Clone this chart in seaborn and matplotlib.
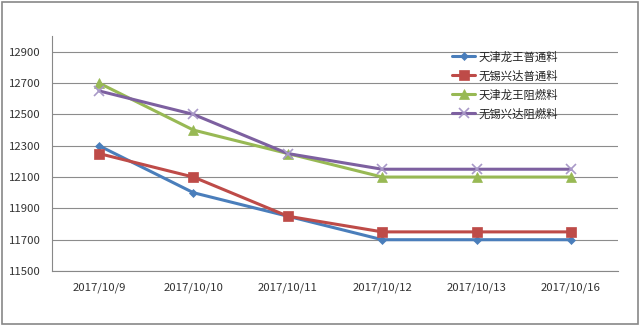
import matplotlib
matplotlib.use("Agg")
import matplotlib.pyplot as plt
import seaborn as sns
import pandas as pd
from matplotlib.patches import Rectangle

dates = ["2017/10/9", "2017/10/10", "2017/10/11", "2017/10/12", "2017/10/13", "2017/10/16"]
series_names = ["天津龙王普通料", "无锡兴达普通料", "天津龙王阻燃料", "无锡兴达阻燃料"]
tj_normal = [12300, 12000, 11850, 11700, 11700, 11700]
wx_normal = [12250, 12100, 11850, 11750, 11750, 11750]
tj_flame = [12700, 12400, 12250, 12100, 12100, 12100]
wx_flame = [12650, 12500, 12250, 12150, 12150, 12150]
y_ticks = [11500, 11700, 11900, 12100, 12300, 12500, 12700, 12900]

colors = ["#4A7EBB", "#BE4B48", "#98B954", "#7D60A0"]
markers = ["D", "s", "^", "x"]
msizes = [4.5, 6.5, 6.5, 7]

sns.set_theme(style="white")
plt.rcParams['font.family'] = ['Noto Sans CJK SC', 'DejaVu Sans']

rows = []
for name, vals in zip(series_names, [tj_normal, wx_normal, tj_flame, wx_flame]):
    for i, (d, v) in enumerate(zip(dates, vals)):
        rows.append({"date": d, "pos": i, "value": v, "series": name})
df = pd.DataFrame(rows)

fig = plt.figure(figsize=(6.4, 3.25), dpi=100)
ax = fig.add_axes([0.081, 0.166, 0.885, 0.723])

for name, c, m, ms in zip(series_names, colors, markers, msizes):
    sub = df[df["series"] == name]
    sns.lineplot(data=sub, x="pos", y="value", ax=ax, color=c, linewidth=2.2,
                 marker=m, markersize=ms, markeredgecolor=("#A999C8" if m == "x" else c),
                 markeredgewidth=1.2 if m == "x" else 0.5, label=name)

ax.set_xlim(-0.5, len(dates) - 0.5)
ax.set_ylim(11500, 13000)
ax.set_yticks(y_ticks)
ax.set_yticklabels([str(t) for t in y_ticks])
ax.set_xticks(range(len(dates)))
ax.set_xticklabels(dates)
ax.set_xticks([i - 0.5 for i in range(len(dates) + 1)], minor=True)
ax.tick_params(axis="x", which="major", length=0, pad=8, labelsize=8.2, colors="#333333")
ax.tick_params(axis="x", which="minor", length=5, width=0.8, color="#888888", direction="out")
ax.tick_params(axis="y", which="major", length=4, width=0.8, color="#888888", direction="out",
               labelsize=8.2, colors="#333333", pad=4)
ax.set_xlabel("")
ax.set_ylabel("")
ax.grid(axis="y", color="#8c8c8c", linewidth=0.8)
ax.set_axisbelow(True)
for s in ["top", "right"]:
    ax.spines[s].set_visible(False)
for s in ["left", "bottom"]:
    ax.spines[s].set_color("#888888")
    ax.spines[s].set_linewidth(0.8)

leg = ax.legend(loc="upper left", bbox_to_anchor=(0.695, 0.965), frameon=False,
                fontsize=8.2, handlelength=2.0, labelspacing=0.68, handletextpad=0.3,
                borderaxespad=0.2)
for t in leg.get_texts():
    t.set_color("#222222")

fig.patches.append(Rectangle((0.003, 0.004), 0.994, 0.99, transform=fig.transFigure,
                             fill=False, edgecolor="#888888", linewidth=1.2))

fig.savefig("out.png", dpi=100)
